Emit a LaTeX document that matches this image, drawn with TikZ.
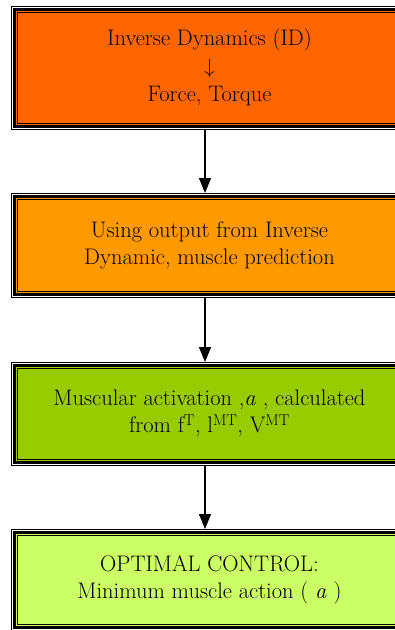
\documentclass[tikz,border=0pt]{standalone}
\usetikzlibrary{positioning,arrows.meta}
\definecolor{idorange}{HTML}{FF6600}
\definecolor{predorange}{HTML}{FF9900}
\definecolor{actgreen}{HTML}{99CC00}
\definecolor{optgreen}{HTML}{CCFF66}
\tikzset{stepbox/.style={fill=#1, draw=black, line width=1pt, minimum width=385pt,
    align=center, font=\fontsize{22.5}{27}\selectfont, outer sep=6pt,
    preaction={draw=black, line width=13pt},
    preaction={draw=white, line width=11pt},
    preaction={draw=black, line width=9pt},
    preaction={draw=#1, line width=3pt}},
  flow/.style={-{Triangle[length=15pt,width=12pt]}, line width=1.2pt}}

\begin{document}
\begin{tikzpicture}[x=1pt,y=-1pt]
   \clip (0,0) rectangle (395,630);
   \coordinate (axis) at (205,0);
   \node[stepbox=idorange, minimum height=111pt] (id) at (209.5,67.5)
    {Inverse Dynamics (ID)\\[1pt]$\downarrow$\\[1pt]Force, Torque};
   \node[stepbox=predorange, minimum height=92pt] (pred) at (209.5,245)
    {Using output from Inverse\\Dynamic, muscle prediction};
   \node[stepbox=actgreen, minimum height=91pt] (act) at (209.5,413.5)
    {Muscular activation ,\textit{a} , calculated\\from f\textsuperscript{T}, l\textsuperscript{MT}, V\textsuperscript{MT}};
   \node[stepbox=optgreen, minimum height=89pt] (opt) at (209.5,579.5)
    {OPTIMAL CONTROL:\\Minimum muscle action ( \textit{a} )};
   \draw[flow] (id.south -| axis) -- (pred.north -| axis);
   \draw[flow] (pred.south -| axis) -- (act.north -| axis);
   \draw[flow] (act.south -| axis) -- (opt.north -| axis);
\end{tikzpicture}
\end{document}
